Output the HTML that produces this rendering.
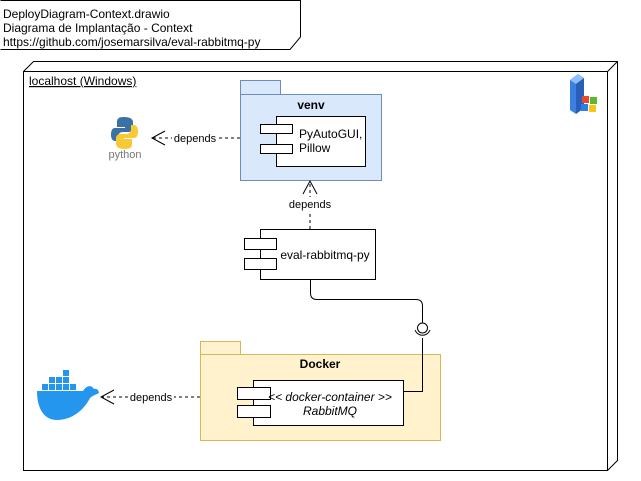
<!DOCTYPE html>
<html><head><meta charset="utf-8"><style>
body{margin:0;background:#fff;}
svg{display:block;font-family:"Liberation Sans",Arial,sans-serif;}
</style></head><body>
<svg width="641" height="481" viewBox="0 0 641 481" xmlns="http://www.w3.org/2000/svg">
<path d="M0.5,0.5 H300.5 V37 L290,49.5 H0.5" fill="#fff" stroke="#000"/>
<text font-size="12" fill="#000"><tspan x="3" y="18">DeployDiagram-Context.drawio</tspan><tspan x="3" y="32">Diagrama de Implantação - Context</tspan><tspan x="3" y="46">https://github.com/josemarsilva/eval-rabbitmq-py</tspan></text>
<path d="M23.5,71.5 L33.5,61.5 H617.5 V460.5 L607.5,470.5 H23.5 Z" fill="#fff" stroke="#000"/>
<path d="M23.5,71.5 H607.5 V470.5 M607.5,71.5 L617.5,61.5" fill="none" stroke="#000"/>
<text x="29" y="85" font-size="12" text-decoration="underline">localhost (Windows)</text>
<g transform="translate(568,74)">
<path d="M2,6 L10,0 L16,4 L16,34 L8,40 L2,36 Z" fill="#3b7fe0"/>
<path d="M2,6 L10,0 L16,4 L8,10 Z" fill="#8ec0ff"/>
<path d="M8,10 L16,4 L16,34 L8,40 Z" fill="#2a5fb8"/>
<rect x="14" y="22" width="7" height="7" fill="#e8482c"/><rect x="22" y="23" width="7" height="7" fill="#5cb82e"/>
<rect x="13" y="30" width="7" height="7" fill="#2c7ee8"/><rect x="21" y="31" width="7" height="7" fill="#f5c518"/>
</g>
<rect x="240.5" y="80.5" width="40" height="14" fill="#dae8fc" stroke="#6c8ebf"/>
<rect x="240.5" y="94.5" width="141" height="86" fill="#dae8fc" stroke="#6c8ebf"/>
<text x="311" y="109" font-size="12" font-weight="bold" text-anchor="middle">venv</text>
<rect x="276.5" y="116.5" width="89" height="50" fill="#fff" stroke="#000"/>
<rect x="260.5" y="124.5" width="32" height="9" fill="#fff" stroke="#000"/>
<rect x="260.5" y="144.5" width="32" height="9" fill="#fff" stroke="#000"/>
<text font-size="12"><tspan x="299" y="138">PyAutoGUI,</tspan><tspan x="299" y="152">Pillow</tspan></text>
<g transform="translate(112,116)">
<path d="M12,1 C5,1 5,4 5,7 V11 H13 V12 H3 C0,12 -1,15 -1,19 C-1,23 1,25 3,25 H6 V21 C6,18 8,16 11,16 H17 C19,16 21,14 21,12 V6 C21,3 18,1 12,1 Z" fill="#3a72a5"/>
<path d="M13,33 C20,33 20,30 20,27 V23 H12 V22 H22 C25,22 26,19 26,15 C26,11 24,9 22,9 H19 V13 C19,16 17,18 14,18 H8 C6,18 4,20 4,22 V28 C4,31 7,33 13,33 Z" fill="#f7c934"/>
<text x="13" y="42" font-size="11" fill="#777" text-anchor="middle">python</text>
</g>
<path d="M240,138 H152" stroke="#000" stroke-dasharray="3,3" fill="none"/>
<path d="M165,131 L152,138 L165,145" stroke="#000" fill="none"/>
<rect x="172" y="131" width="46" height="14" fill="#fff"/>
<text x="195" y="142" font-size="11" text-anchor="middle">depends</text>
<path d="M310,229 V181" stroke="#000" stroke-dasharray="3,3" fill="none"/>
<path d="M303,194 L310,181 L317,194" stroke="#000" fill="none"/>
<rect x="287" y="197" width="46" height="14" fill="#fff"/>
<text x="310" y="208" font-size="11" text-anchor="middle">depends</text>
<rect x="260.5" y="229.5" width="115" height="50" fill="#fff" stroke="#000"/>
<rect x="244.5" y="238.5" width="32" height="11" fill="#fff" stroke="#000"/>
<rect x="244.5" y="258.5" width="32" height="11" fill="#fff" stroke="#000"/>
<text x="325" y="259" font-size="12" text-anchor="middle">eval-rabbitmq-py</text>
<!-- docker package -->
<rect x="200.5" y="341.5" width="40" height="13" fill="#fff2cc" stroke="#d6b656"/>
<rect x="200.5" y="354.5" width="240" height="86" fill="#fff2cc" stroke="#d6b656"/>
<text x="320" y="368" font-size="12" font-weight="bold" text-anchor="middle">Docker</text>
<rect x="253.5" y="380.5" width="150" height="45" fill="#fff" stroke="#000"/>
<rect x="237.5" y="387.5" width="33" height="12" fill="#fff" stroke="#000"/>
<rect x="237.5" y="405.5" width="33" height="12" fill="#fff" stroke="#000"/>
<text font-size="12" font-style="italic" text-anchor="middle"><tspan x="330" y="401">&lt;&lt; docker-container &gt;&gt;</tspan><tspan x="330" y="415">RabbitMQ</tspan></text>
<!-- connector -->
<path d="M310.5,280 V293 Q310.5,299.5 317,299.5 H416 Q422.5,299.5 422.5,306 V323" stroke="#000" fill="none"/>
<circle cx="422.5" cy="328" r="5" fill="#fff" stroke="#000"/>
<path d="M415,330 A8,8 0 0 0 430,330" stroke="#000" fill="none"/>
<path d="M422.5,338 V391.5 H403" stroke="#000" fill="none"/>
<g fill="#2496ed">
<path d="M37,391 H83 C86,386 91,384 94,389 C97,388 99,391 99,393 C95,395 92,396 90,398 C84,410 72,420 57,420 C45,420 37,410 37,391 Z"/>
<rect x="42" y="384" width="6" height="6"/><rect x="49" y="384" width="6" height="6"/><rect x="56" y="384" width="6" height="6"/><rect x="63" y="384" width="6" height="6"/><rect x="70" y="384" width="6" height="6"/>
<rect x="49" y="377" width="6" height="6"/><rect x="56" y="377" width="6" height="6"/><rect x="63" y="377" width="6" height="6"/>
<rect x="63" y="370" width="6" height="6"/>
</g>
<path d="M200,397 H101" stroke="#000" stroke-dasharray="3,3" fill="none"/>
<path d="M114,390 L101,397 L114,404" stroke="#000" fill="none"/>
<rect x="128" y="390" width="46" height="14" fill="#fff"/>
<text x="151" y="401" font-size="11" text-anchor="middle">depends</text>
</svg>
</body></html>
